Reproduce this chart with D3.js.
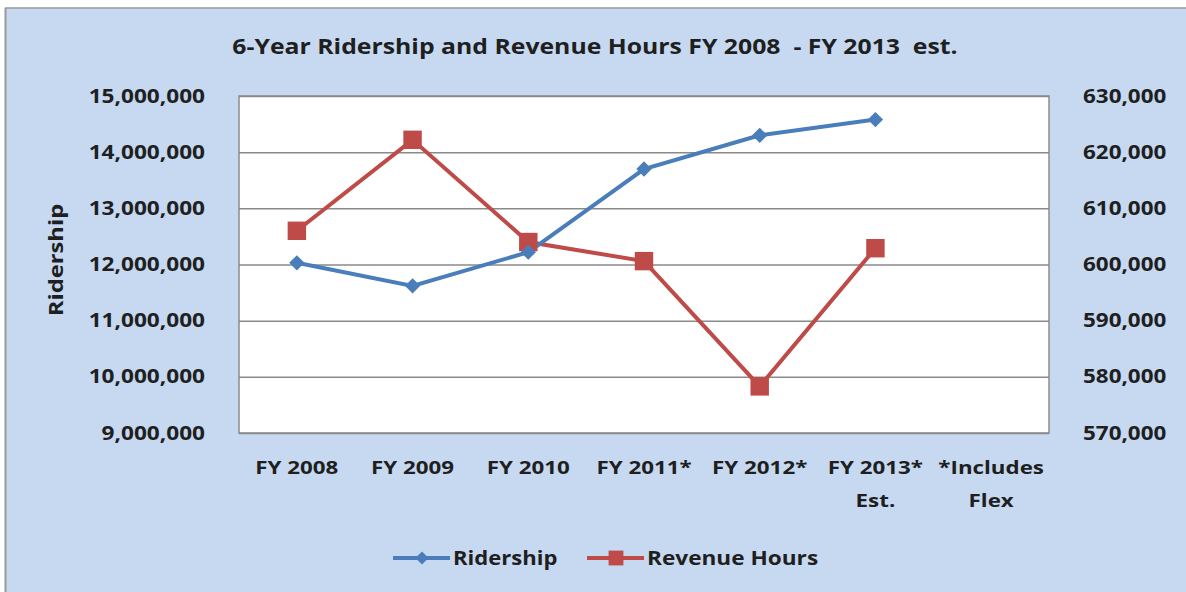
<!DOCTYPE html>
<html>
<head>
<meta charset="utf-8">
<script src="https://cdn.jsdelivr.net/npm/d3@7"></script>
<style>
  body { margin: 0; background: #fff; }
  svg { display: block; }
  text { font-family: "Open Sans", "DejaVu Sans", sans-serif; font-weight: 700; fill: #1f1f1f; }
</style>
</head>
<body>
<div id="chart"></div>
<script>
// chart values
var categories = ["FY 2008", "FY 2009", "FY 2010", "FY 2011*", "FY 2012*", "FY 2013*", "*Includes"];
var categoryLines = [["FY 2008"], ["FY 2009"], ["FY 2010"], ["FY 2011*"], ["FY 2012*"], ["FY 2013*", "Est."], ["*Includes", "Flex"]];
var ridership = [12030000, 11620000, 12220000, 13700000, 14300000, 14580000];
var revenueHours = [606000, 622200, 604000, 600600, 578300, 602900];
var ridershipTicks = [9000000, 10000000, 11000000, 12000000, 13000000, 14000000, 15000000];
var hoursTicks = [570000, 580000, 590000, 600000, 610000, 620000, 630000];

var width = 1186, height = 592;
var plot = { left: 239, right: 1049, top: 96, bottom: 433 };

var svg = d3.select('#chart').append('svg')
    .attr('width', width)
    .attr('height', height);

// background panel
svg.append('rect')
    .attr('x', 0).attr('y', 0).attr('width', width).attr('height', height)
    .style('fill', '#fff');
svg.append('rect')
    .attr('x', 6).attr('y', 8).attr('width', width - 6).attr('height', height - 8)
    .style('fill', '#c6d9f1');
svg.append('line')
    .attr('x1', 5.5).attr('x2', 5.5).attr('y1', 8).attr('y2', height)
    .style('stroke', '#9a9a9a').style('stroke-width', 2);
svg.append('line')
    .attr('x1', 5).attr('x2', width).attr('y1', 8).attr('y2', 8)
    .style('stroke', '#9a9a9a').style('stroke-width', 1.5);

// the source font is drawn wider than Open Sans, so widen the glyphs a bit
function stretch(sel, k) {
    sel.each(function() {
        var w = this.getComputedTextLength();
        d3.select(this).attr('textLength', w * k).attr('lengthAdjust', 'spacingAndGlyphs');
    });
}

var x = d3.scaleBand()
    .domain(categories)
    .range([plot.left, plot.right]);

var yLeft = d3.scaleLinear()
    .domain([9000000, 15000000])
    .range([plot.bottom, plot.top]);

var yRight = d3.scaleLinear()
    .domain([570000, 630000])
    .range([plot.bottom, plot.top]);

function cx(i) { return x(categories[i]) + x.bandwidth() / 2; }

// plot area
svg.append('rect')
    .attr('x', plot.left).attr('y', plot.top)
    .attr('width', plot.right - plot.left).attr('height', plot.bottom - plot.top)
    .style('fill', '#fff')
    .style('stroke', '#8c8c8c').style('stroke-width', 1.5);

// gridlines
var grid = svg.append('g')
    .attr('transform', 'translate(' + plot.left + ',0)')
    .call(d3.axisLeft(yLeft).tickValues(ridershipTicks).tickSize(-(plot.right - plot.left)).tickFormat(''));
grid.select('.domain').remove();
grid.selectAll('line').style('stroke', '#8a8a8a').style('stroke-width', 1.5);

// left axis
var leftAxis = svg.append('g')
    .attr('transform', 'translate(' + plot.left + ',0)')
    .call(d3.axisLeft(yLeft).tickValues(ridershipTicks).tickSize(0).tickPadding(34).tickFormat(d3.format(',')));
leftAxis.select('.domain').remove();
leftAxis.selectAll('text')
    .style('font-size', '19px')
    .style('font-family', '"Open Sans", sans-serif')
    .style('fill', '#1f1f1f');
stretch(leftAxis.selectAll('text'), 1.19);

// right axis
var rightAxis = svg.append('g')
    .attr('transform', 'translate(' + plot.right + ',0)')
    .call(d3.axisRight(yRight).tickValues(hoursTicks).tickSize(0).tickPadding(34).tickFormat(d3.format(',')));
rightAxis.select('.domain').remove();
rightAxis.selectAll('text')
    .style('font-size', '19px')
    .style('font-family', '"Open Sans", sans-serif')
    .style('fill', '#1f1f1f');
stretch(rightAxis.selectAll('text'), 1.18);

// category labels
var xAxis = svg.append('g')
    .attr('transform', 'translate(0,' + plot.bottom + ')')
    .call(d3.axisBottom(x).tickSize(0).tickFormat(''));
xAxis.select('.domain').remove();
xAxis.selectAll('.tick').each(function(d, i) {
    var g = d3.select(this);
    categoryLines[i].forEach(function(line, j) {
        g.append('text')
            .attr('text-anchor', 'middle')
            .attr('y', 41 + j * 33)
            .style('font-size', '18px')
            .text(line);
    });
});
stretch(xAxis.selectAll('text'), 1.24);

// axis title
var yTitle = svg.append('text')
    .attr('transform', 'translate(63,' + 260 + ') rotate(-90)')
    .attr('text-anchor', 'middle')
    .style('font-size', '19px')
    .text('Ridership');
stretch(yTitle, 1.25);

// title
var title = svg.append('text')
    .attr('x', 595).attr('y', 54)
    .attr('text-anchor', 'middle')
    .style('font-size', '21px')
    .style('white-space', 'pre')
    .text('6-Year Ridership and Revenue Hours FY 2008  - FY 2013  est.');
stretch(title, 1.18);

// lines
var line = d3.line().x(function(d, i) { return cx(i); });
var blue = '#4a7ebb', red = '#be4b48';

svg.append('path')
    .datum(revenueHours)
    .attr('d', line.y(function(d) { return yRight(d); }))
    .style('fill', 'none').style('stroke', red).style('stroke-width', 4);

svg.append('path')
    .datum(ridership)
    .attr('d', line.y(function(d) { return yLeft(d); }))
    .style('fill', 'none').style('stroke', blue).style('stroke-width', 4);

var diamond = d3.symbol().type(d3.symbolDiamond2).size(150);
var square = d3.symbol().type(d3.symbolSquare).size(340);

svg.selectAll('.rev-mark')
    .data(revenueHours)
    .enter().append('path')
    .attr('class', 'rev-mark')
    .attr('d', square)
    .attr('transform', function(d, i) { return 'translate(' + cx(i) + ',' + yRight(d) + ')'; })
    .style('fill', red);

svg.selectAll('.rid-mark')
    .data(ridership)
    .enter().append('path')
    .attr('class', 'rid-mark')
    .attr('d', diamond)
    .attr('transform', function(d, i) { return 'translate(' + cx(i) + ',' + yLeft(d) + ')'; })
    .style('fill', blue);

// legend
var legend = svg.append('g').attr('transform', 'translate(0,558)');
var items = [
    { name: 'Ridership', color: blue, sym: d3.symbol().type(d3.symbolDiamond2).size(110), x0: 393, k: 1.16 },
    { name: 'Revenue Hours', color: red, sym: d3.symbol().type(d3.symbolSquare).size(220), x0: 587, k: 1.19 }
];
items.forEach(function(it) {
    legend.append('line')
        .attr('x1', it.x0).attr('x2', it.x0 + 57)
        .style('stroke', it.color).style('stroke-width', 4);
    legend.append('path')
        .attr('d', it.sym)
        .attr('transform', 'translate(' + (it.x0 + 29) + ',0)')
        .style('fill', it.color);
    var t = legend.append('text')
        .attr('x', it.x0 + 60).attr('y', 7)
        .style('font-size', '19px')
        .text(it.name);
    stretch(t, it.k);
});
</script>
</body>
</html>
